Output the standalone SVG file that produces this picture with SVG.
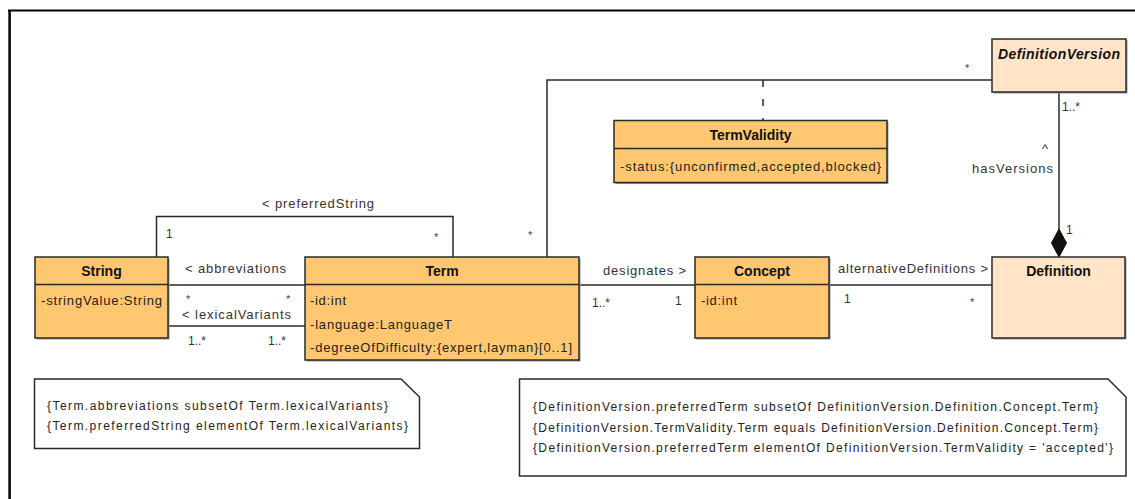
<svg xmlns="http://www.w3.org/2000/svg" width="1135" height="499" viewBox="0 0 1135 499">
  <style>
    text { font-family: "Liberation Sans", Arial, sans-serif; }
    .cls { fill: #FFC870; stroke: #2a2a2a; stroke-width: 1.5; }
    .cls2 { fill: #FFE4C8; stroke: #2a2a2a; stroke-width: 1.5; }
    .sep { stroke: #2a2a2a; stroke-width: 1.5; }
    .shadow { fill: #9a9a9a; }
    .title { font-size: 14px; font-weight: bold; fill: #111; text-anchor: middle; }
    .attr { font-size: 13px; fill: #222; }
    .lbl { font-size: 13px; fill: #333; }
    .mult { font-size: 12px; fill: #333; }
    .star { font-size: 11px; fill: #444; }
    .edge { fill: none; stroke: #2a2a2a; stroke-width: 1.5; }
    .note { fill: #fff; stroke: #2a2a2a; stroke-width: 1.5; }
    .ntext { font-size: 12px; fill: #222; }
  </style>

  <!-- frame -->
  <g id="frame">
    <line x1="8" y1="10.5" x2="1135" y2="10.5" stroke="#000" stroke-width="2.2"/>
    <line x1="9.6" y1="10" x2="9.6" y2="499" stroke="#000" stroke-width="2.5"/>
  </g>

  <!-- connectors -->
  <g id="connectors">
    <!-- preferredString -->
    <polyline class="edge" points="156.5,257 156.5,216.5 453,216.5 453,257"/>
    <text class="lbl" x="262" y="208" textLength="112" lengthAdjust="spacing">&lt; preferredString</text>
    <text class="mult" x="166" y="238">1</text>
    <text class="star" x="434" y="241">*</text>

    <!-- abbreviations -->
    <line class="edge" x1="168" y1="285" x2="305" y2="285"/>
    <text class="lbl" x="185" y="273" textLength="101" lengthAdjust="spacing">&lt; abbreviations</text>
    <text class="star" x="186" y="303">*</text>
    <text class="star" x="286" y="303">*</text>

    <!-- lexicalVariants -->
    <line class="edge" x1="168" y1="326" x2="305" y2="326"/>
    <text class="lbl" x="182" y="319" textLength="109" lengthAdjust="spacing">&lt; lexicalVariants</text>
    <text class="mult" x="188" y="345">1..*</text>
    <text class="mult" x="268" y="345">1..*</text>

    <!-- designates -->
    <line class="edge" x1="579" y1="285" x2="695" y2="285"/>
    <text class="lbl" x="603" y="275" textLength="83" lengthAdjust="spacing">designates &gt;</text>
    <text class="mult" x="592" y="307">1..*</text>
    <text class="mult" x="675" y="305">1</text>

    <!-- alternativeDefinitions -->
    <line class="edge" x1="829" y1="285" x2="992" y2="285"/>
    <text class="lbl" x="838" y="273" textLength="150" lengthAdjust="spacing">alternativeDefinitions &gt;</text>
    <text class="mult" x="844" y="303">1</text>
    <text class="star" x="970" y="306">*</text>

    <!-- DefinitionVersion to Term -->
    <polyline class="edge" points="992,80 547,80 547,257"/>
    <text class="star" x="965" y="72">*</text>
    <text class="star" x="528" y="239">*</text>

    <!-- association class link to TermValidity -->
    <line x1="763" y1="80" x2="763" y2="121" stroke="#2a2a2a" stroke-width="1.5" stroke-dasharray="7,12"/>

    <!-- hasVersions composition -->
    <line class="edge" x1="1059" y1="92" x2="1059" y2="231"/>
    <polygon points="1059,229 1066.5,243 1059,257 1051.5,243" fill="#111" stroke="#111" stroke-width="1"/>
    <text class="mult" x="1062" y="111">1..*</text>
    <text class="lbl" x="1042" y="153">^</text>
    <text class="lbl" x="972" y="173" textLength="81" lengthAdjust="spacing">hasVersions</text>
    <text class="mult" x="1066" y="234">1</text>
  </g>

  <!-- String -->
  <g id="String">
    <rect class="shadow" x="36.5" y="258.5" width="133" height="81"/>
    <rect class="cls" x="35" y="257" width="133" height="81"/>
    <line class="sep" x1="35" y1="284.5" x2="168" y2="284.5"/>
    <text class="title" x="101.5" y="276">String</text>
    <text class="attr" x="41" y="305" textLength="121" lengthAdjust="spacing">-stringValue:String</text>
  </g>

  <!-- Term -->
  <g id="Term">
    <rect class="shadow" x="306.5" y="258.5" width="274" height="103"/>
    <rect class="cls" x="305" y="257" width="274" height="103"/>
    <line class="sep" x1="305" y1="284.5" x2="579" y2="284.5"/>
    <text class="title" x="442" y="276">Term</text>
    <text class="attr" x="310" y="305" textLength="36" lengthAdjust="spacing">-id:int</text>
    <text class="attr" x="310" y="329" textLength="142" lengthAdjust="spacing">-language:LanguageT</text>
    <text class="attr" x="310" y="352" textLength="262" lengthAdjust="spacing">-degreeOfDifficulty:{expert,layman}[0..1]</text>
  </g>

  <!-- Concept -->
  <g id="Concept">
    <rect class="shadow" x="696.5" y="258.5" width="134" height="81"/>
    <rect class="cls" x="695" y="257" width="134" height="81"/>
    <line class="sep" x1="695" y1="284.5" x2="829" y2="284.5"/>
    <text class="title" x="762" y="276">Concept</text>
    <text class="attr" x="701" y="305" textLength="36" lengthAdjust="spacing">-id:int</text>
  </g>

  <!-- Definition -->
  <g id="Definition">
    <rect class="shadow" x="993.5" y="258.5" width="133" height="81"/>
    <rect class="cls2" x="992" y="257" width="133" height="81"/>
    <text class="title" x="1058.5" y="276">Definition</text>
  </g>

  <!-- DefinitionVersion -->
  <g id="DefinitionVersion">
    <rect class="shadow" x="993.5" y="40.5" width="134" height="53"/>
    <rect class="cls2" x="992" y="39" width="134" height="53"/>
    <text class="title" x="1059" y="59" font-style="italic" textLength="122" lengthAdjust="spacing">DefinitionVersion</text>
  </g>

  <!-- TermValidity -->
  <g id="TermValidity">
    <rect class="shadow" x="615.5" y="122" width="273" height="62"/>
    <rect class="cls" x="614" y="120.5" width="273" height="62"/>
    <line class="sep" x1="614" y1="148.5" x2="887" y2="148.5"/>
    <text class="title" x="750.5" y="140">TermValidity</text>
    <text class="attr" x="620" y="171" textLength="261" lengthAdjust="spacing">-status:{unconfirmed,accepted,blocked}</text>
  </g>

  <!-- constraint note on Term -->
  <g id="note-term">
    <path class="note" d="M34.5,379 H401 L419.5,397 V448.5 H34.5 Z"/>
    <text class="ntext" x="47" y="410" textLength="341" lengthAdjust="spacing">{Term.abbreviations subsetOf Term.lexicalVariants}</text>
    <text class="ntext" x="47" y="430" textLength="361" lengthAdjust="spacing">{Term.preferredString elementOf Term.lexicalVariants}</text>
  </g>

  <!-- constraint note on DefinitionVersion -->
  <g id="note-definitionversion">
    <path class="note" d="M519.5,379 H1108 L1126,397 V476 H519.5 Z"/>
    <text class="ntext" x="533" y="411" textLength="565" lengthAdjust="spacing">{DefinitionVersion.preferredTerm subsetOf DefinitionVersion.Definition.Concept.Term}</text>
    <text class="ntext" x="533" y="432" textLength="565" lengthAdjust="spacing">{DefinitionVersion.TermValidity.Term equals DefinitionVersion.Definition.Concept.Term}</text>
    <text class="ntext" x="533" y="452" textLength="580" lengthAdjust="spacing">{DefinitionVersion.preferredTerm elementOf DefinitionVersion.TermValidity = 'accepted'}</text>
  </g>
</svg>
